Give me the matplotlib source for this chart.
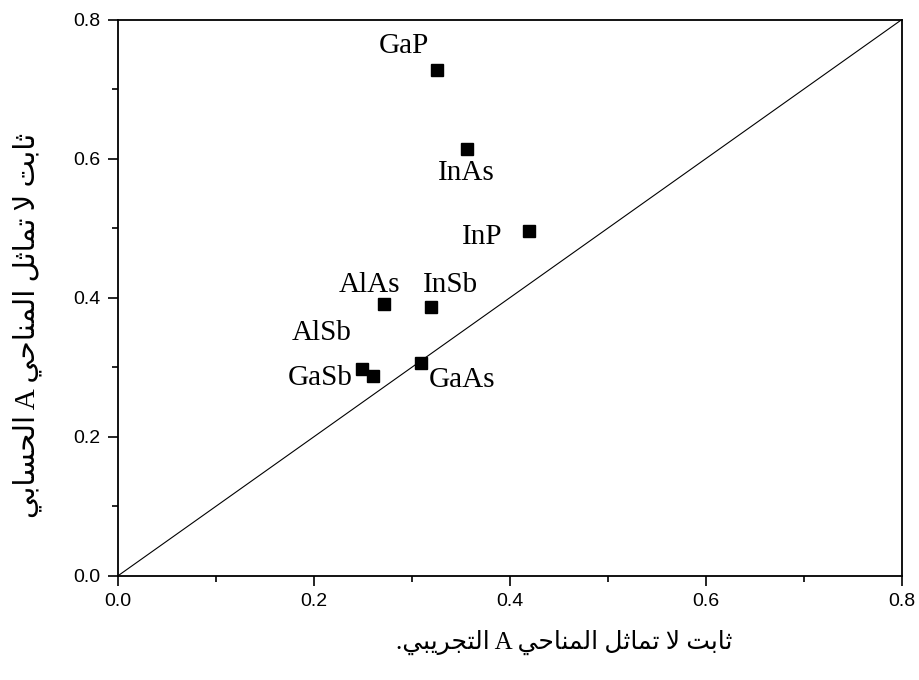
import matplotlib
matplotlib.use("Agg")
import matplotlib.pyplot as plt
from matplotlib.ticker import MultipleLocator

# measured vs computed anisotropy constant A
names = ["GaP", "InAs", "InP", "AlAs", "InSb", "AlSb", "GaSb", "GaAs"]
a_exp = [0.326, 0.356, 0.420, 0.272, 0.320, 0.249, 0.260, 0.309]
a_calc = [0.728, 0.614, 0.496, 0.391, 0.387, 0.298, 0.288, 0.306]

x_label = "ثابت لا تماثل المناحي A التجريبي."
y_label = "ثابت لا تماثل المناحي A الحسابي"

# label offsets from the marker, in points
label_offsets = {
    "GaP": (-24, 17), "InAs": (0, -17), "InP": (-34, -4), "AlAs": (-11, 14),
    "InSb": (14, 16), "AlSb": (-29, 26), "GaSb": (-38, -2), "GaAs": (30, -12),
}

# --- minimal arabic shaping (matplotlib has no shaping / bidi) ---
FORMS = {  # isolated, final, initial, medial
    "ا": (0xFE8D, 0xFE8E, None, None),
    "ب": (0xFE8F, 0xFE90, 0xFE91, 0xFE92),
    "ت": (0xFE95, 0xFE96, 0xFE97, 0xFE98),
    "ث": (0xFE99, 0xFE9A, 0xFE9B, 0xFE9C),
    "ج": (0xFE9D, 0xFE9E, 0xFE9F, 0xFEA0),
    "ح": (0xFEA1, 0xFEA2, 0xFEA3, 0xFEA4),
    "ر": (0xFEAD, 0xFEAE, None, None),
    "س": (0xFEB1, 0xFEB2, 0xFEB3, 0xFEB4),
    "ل": (0xFEDD, 0xFEDE, 0xFEDF, 0xFEE0),
    "م": (0xFEE1, 0xFEE2, 0xFEE3, 0xFEE4),
    "ن": (0xFEE5, 0xFEE6, 0xFEE7, 0xFEE8),
    "ي": (0xFEF1, 0xFEF2, 0xFEF3, 0xFEF4),
}


def dual(c):
    return c in FORMS and FORMS[c][2] is not None


def shape(text):
    out = []
    i = 0
    while i < len(text):
        c = text[i]
        prev = text[i - 1] if i > 0 else ""
        joins_prev = c in FORMS and dual(prev)
        if c == "ل" and i + 1 < len(text) and text[i + 1] == "ا":
            out.append(chr(0xFEFC if joins_prev else 0xFEFB))
            i += 2
            continue
        if c not in FORMS:
            out.append(c)
            i += 1
            continue
        nxt = text[i + 1] if i + 1 < len(text) else ""
        joins_next = dual(c) and nxt in FORMS
        iso, fin, ini, med = FORMS[c]
        if joins_prev and joins_next:
            out.append(chr(med))
        elif joins_prev:
            out.append(chr(fin))
        elif joins_next:
            out.append(chr(ini))
        else:
            out.append(chr(iso))
        i += 1
    # right-to-left visual order (the only latin run is one letter)
    return "".join(reversed(out))


plt.rcParams["font.family"] = ["Liberation Sans", "DejaVu Sans"]

fig = plt.figure(figsize=(9.2, 6.8), dpi=100)
ax = fig.add_axes([0.128, 0.153, 0.852, 0.818])

ax.plot([0, 0.8], [0, 0.8], color="black", linewidth=0.8)
ax.plot(a_exp, a_calc, linestyle="none", marker="s", markersize=8,
        color="black")

for name, xv, yv in zip(names, a_exp, a_calc):
    ax.annotate(name, (xv, yv), xytext=label_offsets[name],
                textcoords="offset points", ha="center", va="center",
                fontsize=21, family=["Liberation Serif", "DejaVu Serif"])

ax.set_xlim(0, 0.8)
ax.set_ylim(0, 0.8)
ax.xaxis.set_major_locator(MultipleLocator(0.2))
ax.xaxis.set_minor_locator(MultipleLocator(0.1))
ax.yaxis.set_major_locator(MultipleLocator(0.2))
ax.yaxis.set_minor_locator(MultipleLocator(0.1))
ax.xaxis.set_major_formatter(lambda v, p: f"{v:.1f}")
ax.yaxis.set_major_formatter(lambda v, p: f"{v:.1f}")

ax.tick_params(which="major", direction="out", length=7.5, width=1.2,
               labelsize=14, top=False, right=False, pad=5)
ax.tick_params(which="minor", direction="out", length=4.5, width=1.2,
               top=False, right=False)
for spine in ax.spines.values():
    spine.set_linewidth(1.3)

arabic_font = ["Liberation Serif", "DejaVu Sans"]
ax.set_xlabel(shape(x_label), fontsize=18, family=arabic_font, va="center")
ax.set_ylabel(shape(y_label), fontsize=21, family=arabic_font, va="center")
ax.xaxis.set_label_coords(0.569, -0.12)
ax.yaxis.set_label_coords(-0.116, 0.451)

fig.savefig("out.png", dpi=100)
